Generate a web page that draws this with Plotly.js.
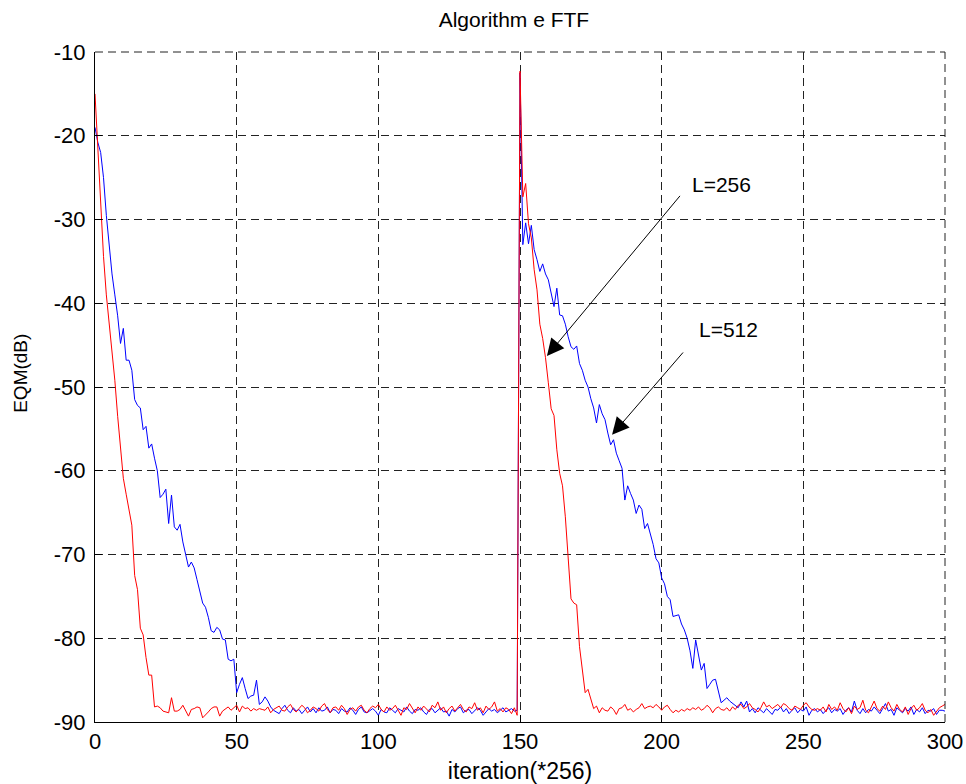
<!DOCTYPE html>
<html>
<head>
<meta charset="utf-8">
<script src="https://cdn.plot.ly/plotly-3.0.1.min.js"></script>
<style>html,body{margin:0;padding:0;background:#fff;}#chart{width:966px;height:784px;}</style>
</head>
<body>
<div id="chart"></div>
<script>
// EQM (dB) per iteration (*256), L=256 (red) and L=512 (blue)
const eqmL256 = [
  -15, -21.5, -28, -34.4, -39, -42.2, -45.6, -49.2, -53.5, -57,
  -60.9, -62.8, -64.7, -66.5, -72.5, -74.2, -78.8, -79.6, -82.3, -84.4,
  -84.4, -88.2, -88.1, -88.3, -88.7, -88.8, -88.9, -87.1, -88.7, -88.7,
  -88.5, -88.0, -88.6, -89.3, -88.5, -88.4, -88.2, -88.3, -89.5, -89.2,
  -88.8, -88.4, -88.2, -88.2, -89.3, -88.7, -88.4, -88.2, -88.6, -88.3,
  -88.0, -88.8, -88.1, -88.4, -88.3, -88.7, -88.4, -88.6, -88.4, -88.5,
  -88.6,
  -88.2, -88.9, -88.5, -88.3, -88.1, -88.6, -88.7, -88.2, -87.9, -88.5,
  -88.8, -88.4, -88.0, -88.3, -88.9, -88.6, -88.2, -88.4, -88.7, -88.1,
  -87.8, -88.5, -88.9, -88.3, -88.2, -88.6, -88.0, -88.4, -89.1, -88.5,
  -88.3, -88.7, -88.2, -88.0, -88.6, -88.9, -88.4, -88.1, -88.3, -87.9,
  -88.5, -88.8, -88.2, -88.6, -88.4, -88.0, -88.7, -89.2, -88.3, -88.5,
  -87.8, -88.4, -88.9, -88.2, -88.6, -88.1, -88.5, -88.8, -88.0, -88.3,
  -87.6, -88.6, -88.2, -88.9, -88.4, -88.1, -88.7, -88.3, -87.9, -88.5,
  -88.8, -88.2, -88.4, -87.7, -88.6, -88.3, -88.9, -88.1, -88.5, -88.2,
  -87.6, -88.7, -88.4, -88.8, -88.3, -88.5, -89.0,
  -88.3, -89.2,
  -12.3, -27.3, -25.7, -30.5, -32.2, -36.0, -38.4, -42.5, -44.2, -46.5,
  -49.5, -52.6, -53.4, -57.5, -60.3, -61.8, -65.5, -70.0, -75.3, -75.8,
  -76.0, -81.0, -84.0, -86.5, -86.1, -87.2, -88.4, -88.1, -88.9, -88.3,
  -88.6,
  -88.7, -88.2, -88.5, -89.1, -88.4, -88.3, -87.9, -88.6, -88.4, -88.8,
  -88.5, -88.3, -87.8, -88.4, -88.2, -88.1, -88.3, -87.9, -88.2, -88.6,
  -88.2, -88.0, -88.5, -88.9, -88.6, -88.8, -88.5, -88.7, -88.4, -88.6,
  -88.3, -88.5, -88.2, -88.6, -88.4, -88.0, -88.3, -88.9, -88.4, -88.2,
  -88.5, -88.6, -88.3, -88.7, -88.2, -88.5, -88.0, -87.9, -88.4, -88.2,
  -87.8, -88.3, -88.5, -88.8, -88.3, -87.6, -88.2, -88.0, -88.4, -88.1,
  -87.9, -88.3, -87.8, -88.0, -88.4, -88.6, -88.1, -88.3, -88.5, -88.0,
  -87.7, -88.2, -88.5, -88.6, -88.4, -88.6, -88.2, -88.8, -87.9, -88.5,
  -88.2, -88.6, -87.7, -88.4, -88.8, -88.3, -89.0, -88.1, -88.5, -88.3,
  -87.4, -88.6, -88.9, -88.2, -87.5, -88.4, -88.7, -88.1, -88.5, -87.6,
  -88.3, -88.7, -87.9, -88.5, -88.8, -88.2, -89.1, -88.4, -88.0, -88.6,
  -88.3, -87.8, -88.6, -88.9, -88.5, -89.2, -88.7, -88.3, -88.1, -87.9
];

const eqmL512 = [
  -19, -20.8, -22, -25, -29.5, -33.5, -36.5, -39, -41.5, -44.8,
  -43, -46.8, -46.8, -48, -51.5, -52.2, -52.5, -55.1, -54.7, -57.3,
  -56.8, -58.5, -60, -63.2, -62.8, -62.2, -66.3, -62.9, -66.7, -67.1,
  -66.4, -68.5, -70, -71.5, -70.9, -71.6, -73, -74.6, -75.8, -76.3,
  -77.5, -79.1, -79.3, -78.7, -79, -80.1, -80.2, -82.5, -82.7, -82.5,
  -86.5, -85.5, -84.7, -86, -87.2, -86.9, -86.8, -85, -87.9, -87.6,
  -87, -87.5, -88.2, -88.6, -88.8, -89,
  -88.4, -88.0, -88.6, -88.9, -88.3, -88.7, -88.5, -89.0, -88.6, -88.2,
  -88.8, -88.4, -88.9, -88.3, -88.7, -88.6, -88.2, -88.9, -88.5, -88.6,
  -89.0, -88.4, -88.7, -88.8, -88.3, -88.6, -89.1, -88.5, -88.2, -88.8,
  -88.9, -88.6, -88.4, -88.7, -89.2, -88.5, -88.8, -88.9, -88.3, -88.6,
  -88.9, -88.4, -88.6, -88.8, -88.2, -88.7, -89.0, -88.5, -88.6, -88.3,
  -88.8, -89.1, -88.5, -88.4, -88.9, -88.6, -88.3, -88.8, -88.7, -89.3,
  -88.5, -88.8, -88.4, -88.2, -88.9, -88.6, -88.5, -89.0, -88.7, -88.3,
  -88.6, -89.2, -88.8, -88.4, -88.7, -88.5, -88.9, -88.6, -88.3, -88.8,
  -88.6, -88.4, -88.7, -88.6,
  -12.5, -33.0, -30.4, -32.9, -30.7, -33.6, -34.8, -36.2, -35.3, -36.5,
  -37.2, -39.0, -40.4, -38.2, -41.4, -41.5, -42.5, -44.0, -45.2, -45.5,
  -45.1, -47.2, -48.0, -49.2, -50.0, -51.4, -52.5, -54.3, -52.1, -53.2,
  -53.9, -55.5, -56.9, -56.3, -57.9, -58.8, -59.7, -63.5, -61.8, -62.7,
  -63.5, -65.1, -64.1, -64.6, -66.9, -66.3, -67.5, -68.8, -70.5, -71.0,
  -72.8, -73.5, -75.0, -75.4, -77.4, -77.3, -77.2, -78.3, -79.0, -80.0,
  -81.5, -83.6, -80.2, -82.0, -83.8, -83.0, -86.0, -85.5, -85.0, -84.9,
  -86.3, -87.7, -87.4, -87.1, -87.5, -87.8, -88.0, -88.3, -87.6, -88.2,
  -87.5, -88.8, -88.4, -88.9, -88.3, -88.6,
  -88.9, -88.4, -88.7, -89.1, -88.5, -88.6, -88.2, -88.8, -88.4, -89.0,
  -88.6, -88.3, -88.9, -88.5, -88.7, -88.2, -89.2, -88.6, -88.4, -88.8,
  -88.5, -89.0, -88.6, -88.3, -88.9, -88.5, -88.7, -88.4, -89.1, -88.6,
  -88.3, -88.8, -87.5, -88.6, -89.0, -88.4, -88.9, -88.5, -88.7, -88.2,
  -88.6, -89.0, -88.4, -87.8, -88.7, -88.5, -89.2, -88.3, -88.6, -88.9,
  -88.4, -88.7, -88.2, -89.1, -88.5, -88.8, -88.3, -89.0, -88.6, -88.7,
  -88.4, -89.1, -88.6, -88.6, -88.7
];

const iterL256 = eqmL256.map((_, i) => i);
const iterL512 = eqmL512.map((_, i) => i);

const xTicks = [0, 50, 100, 150, 200, 250, 300];
const yTicks = [-90, -80, -70, -60, -50, -40, -30, -20, -10];

const labels = ['L=256', 'L=512'];
const labelPos = [[221, -25.8], [223.6, -43.1]];
const arrowTip = [[159.5, -46.3], [182.5, -55.7]];
const arrowTail = [[206.9, -27.0], [208.0, -45.7]];

const FONT = '"Liberation Sans", Arial, sans-serif';
const DASH = '8px,5px';

const traces = [
  {x: iterL512, y: eqmL512, type: 'scatter', mode: 'lines', line: {color: '#0000ff', width: 1}, hoverinfo: 'none'},
  {x: iterL256, y: eqmL256, type: 'scatter', mode: 'lines', line: {color: '#ff0000', width: 1}, hoverinfo: 'none'}
];

const annotations = [];
for (let i = 0; i < labels.length; i++) {
  annotations.push({
    x: arrowTip[i][0], y: arrowTip[i][1], xref: 'x', yref: 'y',
    ax: arrowTail[i][0], ay: arrowTail[i][1], axref: 'x', ayref: 'y',
    showarrow: true, arrowhead: 2, arrowsize: 3.4, arrowwidth: 1, arrowcolor: '#000', text: ''
  });
  annotations.push({
    x: labelPos[i][0], y: labelPos[i][1], xref: 'x', yref: 'y',
    text: labels[i], showarrow: false, font: {family: FONT, size: 21, color: '#000'}
  });
}
// y-axis title placed as in the reference
annotations.push({
  xref: 'paper', yref: 'paper', x: -0.088, y: 0.52, xanchor: 'center', yanchor: 'middle',
  text: 'EQM(dB)', textangle: -90, showarrow: false, font: {family: FONT, size: 19, color: '#000'}
});

const gridStyle = {showgrid: true, gridcolor: '#222', gridwidth: 1, griddash: DASH};

const layout = {
  width: 966, height: 784,
  margin: {l: 95, r: 21, t: 52, b: 62},
  paper_bgcolor: '#fff', plot_bgcolor: '#fff',
  showlegend: false,
  font: {family: FONT, color: '#000'},
  title: {text: 'Algorithm e FTF', font: {family: FONT, size: 21, color: '#000'}, x: 0.532, xanchor: 'center', y: 0.975, yanchor: 'middle'},
  xaxis: Object.assign({
    range: [0, 300], tickvals: xTicks, ticktext: xTicks.map(String),
    ticks: 'inside', ticklen: 7, tickcolor: '#000',
    showline: true, linecolor: '#000', linewidth: 1, zeroline: false,
    tickfont: {family: FONT, size: 22, color: '#000'},
    title: {text: 'iteration(*256)', font: {family: FONT, size: 23, color: '#000'}, standoff: 10}
  }, gridStyle),
  yaxis: Object.assign({
    range: [-90, -10], tickvals: yTicks, ticktext: yTicks.map(String),
    ticks: 'inside', ticklen: 7, tickcolor: '#000', ticklabelstandoff: 4,
    showline: true, linecolor: '#000', linewidth: 1, zeroline: false,
    tickfont: {family: FONT, size: 22, color: '#000'}
  }, gridStyle),
  xaxis2: {overlaying: 'x', anchor: 'y', side: 'top', range: [0, 300], tickvals: xTicks,
    ticks: 'inside', ticklen: 7, tickcolor: '#000', showticklabels: false, showgrid: false, showline: false, zeroline: false},
  yaxis2: {overlaying: 'y', anchor: 'x', side: 'right', range: [-90, -10], tickvals: yTicks,
    ticks: 'inside', ticklen: 7, tickcolor: '#000', showticklabels: false, showgrid: false, showline: false, zeroline: false},
  shapes: [
    {type: 'line', xref: 'paper', yref: 'paper', x0: 0, x1: 1, y0: 1, y1: 1, line: {color: '#222', width: 1, dash: DASH}},
    {type: 'line', xref: 'paper', yref: 'paper', x0: 1, x1: 1, y0: 0, y1: 1, line: {color: '#222', width: 1, dash: DASH}}
  ],
  annotations: annotations
};

Plotly.newPlot('chart', traces, layout, {displayModeBar: false, staticPlot: true});
</script>
</body>
</html>
